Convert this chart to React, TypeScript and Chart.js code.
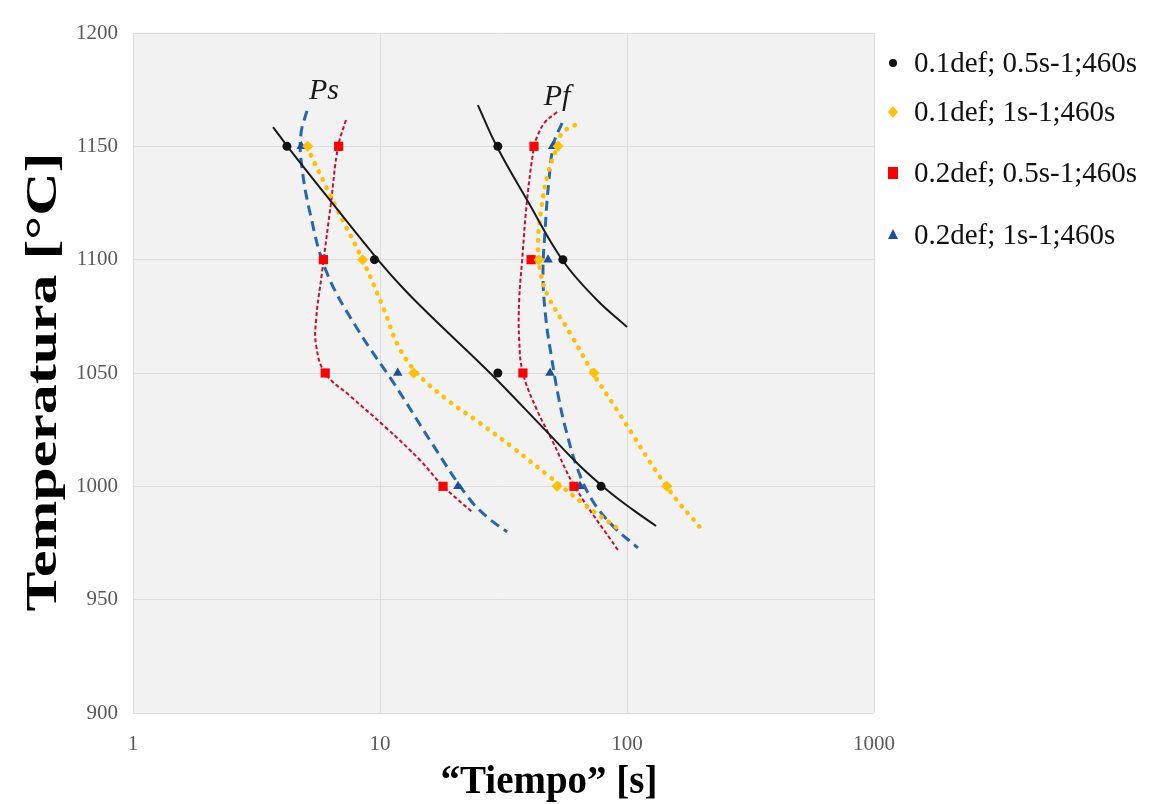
import React, { useEffect, useRef } from 'react';
import { Chart, registerables } from 'chart.js';

Chart.register(...registerables);

// ---------- data ----------
const X_TICKS = [1, 10, 100, 1000];
const Y_MIN = 900;
const Y_MAX = 1200;
const Y_STEP = 50;

const SERIES_LABELS = [
  '0.1def; 0.5s-1;460s',
  '0.1def; 1s-1;460s',
  '0.2def; 0.5s-1;460s',
  '0.2def; 1s-1;460s',
];

const TEMPS = [1150, 1100, 1050, 1000];

// measured points (time in s) – Ps then Pf at each temperature
const BLACK_TIME = [4.2, 9.5, 30, 78.5, 30, 55];
const BLACK_TEMP = [1150, 1100, 1050, 1000, 1150, 1100];
const YELLOW_PS = [5.1, 8.5, 13.7, 52.1];
const YELLOW_PF = [52.6, 44, 73.5, 145];
const RED_PS = [6.8, 5.9, 6.0, 18];
const RED_PF = [42, 40.9, 37.9, 61];
const BLUE_PS = [4.8, 5.9, 11.8, 20.7];
const BLUE_PF = [50, 47.9, 48.8, 64.5];

// fitted curves: [time, temperature]
const BLACK_CURVE_A = [[3.69, 1158.5], [4.24, 1149.7], [6.45, 1124.6], [9.91, 1099.4], [12.6, 1086.6], [16.2, 1074.7], [27.9, 1050], [46.6, 1024.9], [63.9, 1009.4], [83.0, 998.4], [105.8, 989.6], [131.1, 982.5]];
const BLACK_CURVE_B = [[24.9, 1168.2], [29.8, 1149.7], [39.4, 1126.3], [55.1, 1099.4], [75.6, 1082.2], [100, 1070.3]];
const YELLOW_CURVE_PS = [[5.06, 1149.7], [6.58, 1124.1], [8.54, 1099.4], [10.4, 1077.8], [11.8, 1062.4], [14.0, 1050.4], [18.3, 1039.0], [25.4, 1027.9], [34.2, 1017.4], [48.8, 1004.1], [67.6, 991.8], [93.7, 980.7]];
const YELLOW_CURVE_PF = [[61.6, 1159.4], [54.6, 1155.9], [52.1, 1149.7], [47.9, 1138.2], [44.9, 1121.9], [43.6, 1105.6], [44.9, 1093.2], [48.3, 1083.1], [58.8, 1067.6], [72.8, 1050], [91.1, 1033.7], [145.2, 999.7], [203, 980.3]];
const RED_CURVE_PS = [[7.28, 1161.6], [6.76, 1149.7], [6.33, 1125], [5.82, 1094.1], [5.51, 1073.4], [5.51, 1062.4], [5.99, 1050], [7.56, 1039.9], [10.5, 1026.2], [14.5, 1011.6], [18.0, 1000.1], [23.6, 988.7]];
const RED_CURVE_PF = [[52.1, 1165.1], [46.6, 1160.7], [43.2, 1154.1], [42.0, 1149.7], [39.4, 1126.3], [37.6, 1099.4], [36.6, 1082.2], [36.6, 1064.6], [37.9, 1050], [43.2, 1033.7], [49.7, 1020.4], [61.6, 999.7], [91.9, 971.9]];
const BLUE_CURVE_PS = [[5.06, 1165.6], [4.79, 1155.9], [4.79, 1144.0], [5.21, 1120.6], [6.1, 1094.1], [8.15, 1069], [11.5, 1044.7], [16.2, 1019.1], [22.7, 995.3], [27.1, 986.5], [32.7, 979.9]];
const BLUE_CURVE_PF = [[54.6, 1160.3], [50.6, 1151.5], [48.3, 1135.1], [46.6, 1113.1], [45.7, 1093.2], [47.0, 1073.4], [49.7, 1055.7], [52.6, 1040.3], [56.6, 1024.9], [63.3, 1007.2], [72.2, 994.0], [87.0, 982.9], [110.8, 972.8]];

const PS_LABEL = { text: 'Ps', x: 5.93, y: 1174.4 };
const PF_LABEL = { text: 'Pf', x: 52.1, y: 1171.8 };
const Y_TITLE = 'Temperatura [°C]';
const X_TITLE = '\u201CTiempo\u201D [s]';

// ---------- styles ----------
const BLACK = '#111111';
const GOLD = '#FFC000';
const RED = '#FF0000';
const RED_LINE = '#C8102E';
const BLUE_MARK = '#1F4E9A';
const BLUE_LINE = '#2767B0';
const SERIF = '"Liberation Serif", "Times New Roman", serif';

const toPts = (arr: number[][]) => arr.map(([x, y]) => ({ x, y }));
const zipPts = (xs: number[], ys: number[]) => xs.map((x, i) => ({ x, y: ys[i] }));

const LEGEND_ROWS = [63, 112, 173, 235];
const LEGEND_STYLES = ['circle', 'diamond', 'square', 'triangle'];
const LEGEND_COLORS = [BLACK, GOLD, RED, BLUE_MARK];

function drawMarker(ctx: CanvasRenderingContext2D, kind: string, x: number, y: number, color: string) {
  ctx.save();
  ctx.fillStyle = color;
  ctx.beginPath();
  if (kind === 'circle') {
    ctx.arc(x, y, 4, 0, Math.PI * 2);
  } else if (kind === 'diamond') {
    ctx.moveTo(x, y - 6);
    ctx.lineTo(x + 5, y);
    ctx.lineTo(x, y + 6);
    ctx.lineTo(x - 5, y);
    ctx.closePath();
  } else if (kind === 'square') {
    ctx.rect(x - 5, y - 6, 10, 12);
  } else {
    ctx.moveTo(x, y - 6);
    ctx.lineTo(x + 5, y + 4);
    ctx.lineTo(x - 5, y + 4);
    ctx.closePath();
  }
  ctx.fill();
  ctx.restore();
}

const decorPlugin = {
  id: 'decor',
  beforeDraw(chart: any) {
    const { ctx, chartArea } = chart;
    ctx.save();
    ctx.fillStyle = '#ffffff';
    ctx.fillRect(0, 0, chart.width, chart.height);
    ctx.fillStyle = '#f2f2f2';
    ctx.fillRect(chartArea.left, chartArea.top, chartArea.right - chartArea.left, chartArea.bottom - chartArea.top);
    ctx.restore();
  },
  afterDraw(chart: any) {
    const { ctx } = chart;
    const xs = chart.scales.x;
    const ys = chart.scales.y;
    ctx.save();
    // Ps / Pf annotations
    ctx.fillStyle = '#1a1a1a';
    ctx.font = `italic 30px ${SERIF}`;
    ctx.textAlign = 'center';
    ctx.textBaseline = 'middle';
    [PS_LABEL, PF_LABEL].forEach((l) => {
      ctx.fillText(l.text, xs.getPixelForValue(l.x), ys.getPixelForValue(l.y));
    });
    // x axis title
    ctx.fillStyle = '#000';
    ctx.font = `bold 39px ${SERIF}`;
    ctx.fillText(X_TITLE, 549, 783);
    // y axis title (stretched along its length like the original)
    ctx.save();
    ctx.translate(44, 382);
    ctx.rotate(-Math.PI / 2);
    ctx.scale(1.33, 1);
    ctx.font = `bold 45px ${SERIF}`;
    ctx.fillText(Y_TITLE, 0, 0);
    ctx.restore();
    // legend
    ctx.font = `29px ${SERIF}`;
    ctx.textAlign = 'left';
    SERIES_LABELS.forEach((label, i) => {
      drawMarker(ctx, LEGEND_STYLES[i], 893, LEGEND_ROWS[i], LEGEND_COLORS[i]);
      ctx.fillStyle = '#111';
      ctx.fillText(label, 914, LEGEND_ROWS[i] + 1);
    });
    ctx.restore();
  },
};

export default function App() {
  const canvasRef = useRef<HTMLCanvasElement | null>(null);

  useEffect(() => {
    const canvas = canvasRef.current;
    if (!canvas) return;

    const curve = (data: number[][], color: string, width: number, dash: number[], cap: CanvasLineCap = 'butt') => ({
      label: '',
      data: toPts(data),
      showLine: true,
      borderColor: color,
      backgroundColor: color,
      borderWidth: width,
      borderDash: dash,
      borderCapStyle: cap,
      pointRadius: 0,
      tension: 0.4,
      fill: false,
    });

    const markers = (label: string, data: any[], color: string, style: string, radius: number) => ({
      label,
      data,
      showLine: false,
      backgroundColor: color,
      borderColor: color,
      borderWidth: 0,
      pointStyle: style,
      pointRadius: radius,
    });

    const chart = new Chart(canvas, {
      type: 'scatter',
      data: {
        datasets: [
          markers(SERIES_LABELS[0], zipPts(BLACK_TIME, BLACK_TEMP), BLACK, 'circle', 4.5),
          markers(SERIES_LABELS[1], [...zipPts(YELLOW_PS, TEMPS), ...zipPts(YELLOW_PF, TEMPS)], GOLD, 'rectRot', 5.5),
          markers(SERIES_LABELS[2], [...zipPts(RED_PS, TEMPS), ...zipPts(RED_PF, TEMPS)], RED, 'rect', 6.5),
          markers(SERIES_LABELS[3], [...zipPts(BLUE_PS, TEMPS), ...zipPts(BLUE_PF, TEMPS)], BLUE_MARK, 'triangle', 5.5),
          curve(BLACK_CURVE_A, '#1a1a1a', 2, []),
          curve(BLACK_CURVE_B, '#1a1a1a', 2, []),
          curve(YELLOW_CURVE_PS, GOLD, 4.5, [0.5, 8.5], 'round'),
          curve(YELLOW_CURVE_PF, GOLD, 4.5, [0.5, 8.5], 'round'),
          curve(RED_CURVE_PS, RED_LINE, 2, [4, 2.5]),
          curve(RED_CURVE_PF, RED_LINE, 2, [4, 2.5]),
          curve(BLUE_CURVE_PS, BLUE_LINE, 3, [10, 6]),
          curve(BLUE_CURVE_PF, BLUE_LINE, 3, [10, 6]),
        ] as any,
      },
      options: {
        responsive: false,
        animation: false,
        events: [],
        layout: { padding: { top: 33, right: 288, left: 0, bottom: 0 } },
        plugins: {
          legend: { display: false },
          tooltip: { enabled: false },
        },
        scales: {
          x: {
            type: 'logarithmic',
            min: 1,
            max: 1000,
            afterBuildTicks: (s: any) => {
              s.ticks = X_TICKS.map((v) => ({ value: v }));
            },
            afterFit: (s: any) => {
              s.height = 91;
            },
            ticks: {
              callback: (v: any) => String(v),
              font: { family: SERIF, size: 21 },
              color: '#595959',
              padding: 19,
              maxRotation: 0,
              autoSkip: false,
            },
            grid: { color: '#dcdcdc', lineWidth: 1, drawTicks: false },
            border: { display: false },
            title: { display: false },
          },
          y: {
            type: 'linear',
            min: Y_MIN,
            max: Y_MAX,
            afterFit: (s: any) => {
              s.width = 133;
            },
            ticks: {
              stepSize: Y_STEP,
              callback: (v: any) => String(v),
              font: { family: SERIF, size: 21 },
              color: '#595959',
              padding: 15,
            },
            grid: { color: '#dcdcdc', lineWidth: 1, drawTicks: false },
            border: { display: false },
            title: { display: false },
          },
        },
      },
      plugins: [decorPlugin],
    } as any);

    return () => chart.destroy();
  }, []);

  return (
    <canvas
      ref={canvasRef}
      width={1162}
      height={804}
      style={{ position: 'absolute', left: 0, top: 0, display: 'block' }}
    />
  );
}
